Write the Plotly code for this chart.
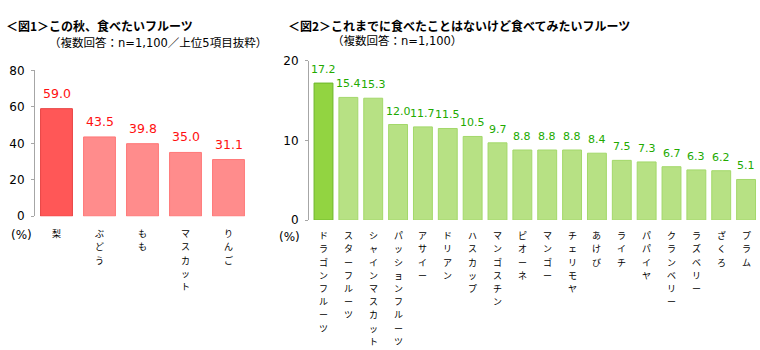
import plotly.graph_objects as go

# ---- data ----
fruits1 = ["梨", "ぶどう", "もも", "マスカット", "りんご"]
values1 = [59.0, 43.5, 39.8, 35.0, 31.1]

fruits2 = ["ドラゴンフルーツ", "スターフルーツ", "シャインマスカット", "パッションフルーツ",
           "アサイー", "ドリアン", "ハスカップ", "マンゴスチン", "ピオーネ", "マンゴー",
           "チェリモヤ", "あけび", "ライチ", "パパイヤ", "クランベリー", "ラズベリー",
           "ざくろ", "プラム"]
values2 = [17.2, 15.4, 15.3, 12.0, 11.7, 11.5, 10.5, 9.7, 8.8, 8.8,
           8.8, 8.4, 7.5, 7.3, 6.7, 6.3, 6.2, 5.1]

title1 = "＜図1＞この秋、食べたいフルーツ"
sub1 = "（複数回答：n=1,100／上位5項目抜粋）"
title2 = "＜図2＞これまでに食べたことはないけど食べてみたいフルーツ"
sub2 = "（複数回答：n=1,100）"

W, H = 760, 350
JP = "Noto Sans CJK JP"
NUM = "DejaVu Sans, Noto Sans CJK JP"
LBL_SIZE = 9
LBL_STEP = 13.2


def px_x(p):
    return p / W


def px_y(p):
    return 1 - p / H


fig = go.Figure()

red_fill = ["#FF5757"] + ["#FF8C8C"] * (len(values1) - 1)
red_line = ["#E84040"] + ["#FF7777"] * (len(values1) - 1)
green_fill = ["#92D441"] + ["#B7E184"] * (len(values2) - 1)
green_line = ["#6DB72A"] + ["#A3D86A"] * (len(values2) - 1)

fig.add_trace(go.Bar(x=fruits1, y=values1, width=0.74,
                     marker=dict(color=red_fill, line=dict(color=red_line, width=1)),
                     xaxis="x", yaxis="y", showlegend=False, hoverinfo="skip"))
fig.add_trace(go.Bar(x=fruits2, y=values2, width=0.76,
                     marker=dict(color=green_fill, line=dict(color=green_line, width=1)),
                     xaxis="x2", yaxis="y2", showlegend=False, hoverinfo="skip"))

annotations = []
for f, v in zip(fruits1, values1):
    annotations.append(dict(x=f, y=v, xref="x", yref="y", text=f"{v:.1f}",
                            showarrow=False, yanchor="bottom", yshift=6,
                            font=dict(family=NUM, size=12.5, color="#FF1010")))
for f, v in zip(fruits2, values2):
    annotations.append(dict(x=f, y=v, xref="x2", yref="y2", text=f"{v:.1f}",
                            showarrow=False, yanchor="bottom", yshift=5,
                            font=dict(family=NUM, size=11, color="#22AA00")))

# vertical (tategaki) category labels, one character per line, anchored at y=0
for xref, yref, cats, top in (("x", "y", fruits1, 11), ("x2", "y2", fruits2, 9)):
    for f in cats:
        for i, ch in enumerate(f):
            annotations.append(dict(x=f, y=0, xref=xref, yref=yref, text=ch,
                                    showarrow=False, xanchor="center", yanchor="top",
                                    yshift=-(top + i * LBL_STEP), borderpad=0, borderwidth=0,
                                    font=dict(family=JP, size=LBL_SIZE, color="#000000")))

annotations += [
    dict(x=px_x(4), y=px_y(19), xref="paper", yref="paper", xanchor="left", yanchor="middle",
         text=f"<b>{title1}</b>", showarrow=False, font=dict(family=JP, size=12, color="#000000")),
    dict(x=px_x(47), y=px_y(38), xref="paper", yref="paper", xanchor="left", yanchor="middle",
         text=sub1, showarrow=False, font=dict(family=NUM, size=11.5, color="#000000")),
    dict(x=px_x(286), y=px_y(19), xref="paper", yref="paper", xanchor="left", yanchor="middle",
         text=f"<b>{title2}</b>", showarrow=False, font=dict(family=JP, size=12, color="#000000")),
    dict(x=px_x(330), y=px_y(35), xref="paper", yref="paper", xanchor="left", yanchor="middle",
         text=sub2, showarrow=False, font=dict(family=NUM, size=11.5, color="#000000")),
    dict(x=px_x(21), y=px_y(238), xref="paper", yref="paper", xanchor="center", yanchor="middle",
         text="(%)", showarrow=False, font=dict(family=NUM, size=12, color="#000000")),
    dict(x=px_x(289), y=px_y(240), xref="paper", yref="paper", xanchor="center", yanchor="middle",
         text="(%)", showarrow=False, font=dict(family=NUM, size=12, color="#000000")),
]

axis_y = dict(showline=True, linecolor="#A6A6A6", linewidth=1, ticks="outside", ticklen=3,
              tickcolor="#A6A6A6", showgrid=False, zeroline=False, ticklabelstandoff=4,
              tickfont=dict(family=NUM, size=12, color="#000000"))
axis_x = dict(showline=False, showgrid=False, zeroline=False, ticks="", showticklabels=False)

fig.update_layout(
    width=W, height=H,
    margin=dict(l=0, r=0, t=0, b=0),
    paper_bgcolor="white", plot_bgcolor="white",
    xaxis=dict(domain=[px_x(35), px_x(250)], anchor="y", **axis_x),
    yaxis=dict(domain=[px_y(218), px_y(66)], anchor="x", range=[0, 80], dtick=20, **axis_y),
    xaxis2=dict(domain=[px_x(309), px_x(758.5)], anchor="y2", **axis_x),
    yaxis2=dict(domain=[px_y(222), px_y(56)], anchor="x2", range=[0, 20], dtick=10, **axis_y),
    annotations=annotations,
)

fig.write_html("out.html")
